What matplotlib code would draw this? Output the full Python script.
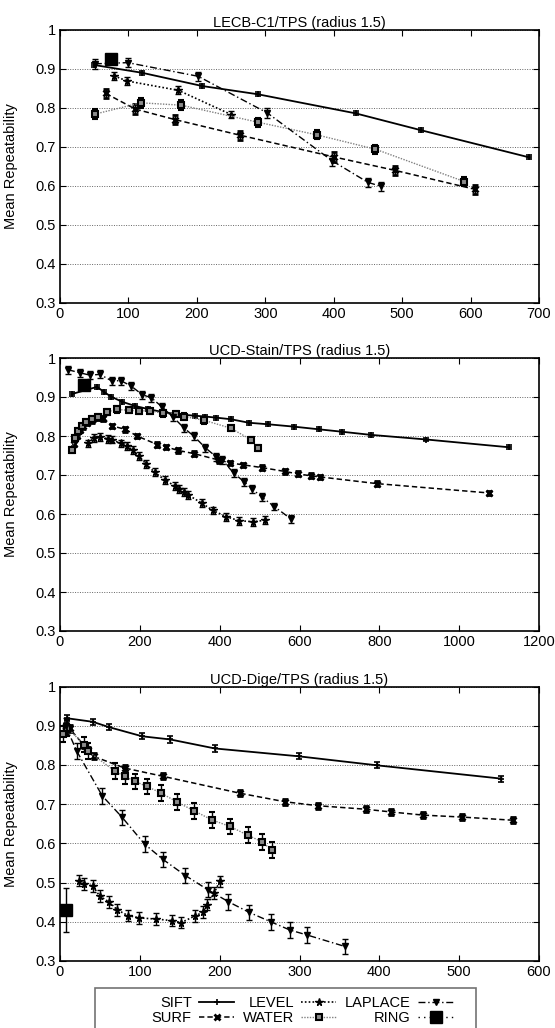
import numpy as np
import matplotlib.pyplot as plt
from matplotlib.lines import Line2D
from matplotlib.patches import Rectangle

plt.rcParams['font.family'] = ['Liberation Sans', 'DejaVu Sans']
plt.rcParams['font.size'] = 10.5

names = ['SIFT', 'SURF', 'LEVEL', 'WATER', 'LAPLACE', 'RING']
ytick_vals = [0.3, 0.4, 0.5, 0.6, 0.7, 0.8, 0.9, 1.0]
ytick_labels = ['0.3', '0.4', '0.5', '0.6', '0.7', '0.8', '0.9', '1']

# --- LECB-C1/TPS ---
lecb_sift_x = [50, 120, 208, 289, 432, 527, 686]
lecb_sift_y = [0.909, 0.889, 0.855, 0.834, 0.785, 0.742, 0.672]
lecb_surf_x = [67, 110, 168, 263, 401, 489, 607]
lecb_surf_y = [0.836, 0.796, 0.769, 0.729, 0.673, 0.639, 0.590]
lecb_level_x = [79, 98, 173, 250]
lecb_level_y = [0.881, 0.868, 0.844, 0.782]
lecb_water_x = [51, 118, 177, 290, 375, 461, 591]
lecb_water_y = [0.783, 0.812, 0.806, 0.762, 0.730, 0.693, 0.610]
lecb_laplace_x = [51, 99, 202, 303, 398, 450, 469]
lecb_laplace_y = [0.912, 0.915, 0.880, 0.786, 0.663, 0.608, 0.598]
lecb_ring_x = [74]
lecb_ring_y = [0.925]
lecb_err = [0.005, 0.012, 0.010, 0.012, 0.012, 0.0]

# --- UCD-Stain/TPS ---
stain_sift_x = [31, 93, 110, 128, 155, 188, 221, 259, 292, 338, 363, 392, 428,
                473, 522, 586, 650, 706, 778, 918, 1126]
stain_sift_y = [0.908, 0.926, 0.913, 0.901, 0.888, 0.877, 0.869, 0.861, 0.856,
                0.852, 0.850, 0.847, 0.843, 0.834, 0.830, 0.824, 0.817, 0.811,
                0.803, 0.791, 0.771]
stain_surf_x = [36, 42, 50, 58, 68, 80, 95, 107, 130, 164, 193, 244, 266, 296,
                335, 399, 426, 459, 506, 564, 595, 628, 652, 793, 1074]
stain_surf_y = [0.780, 0.800, 0.815, 0.825, 0.833, 0.840, 0.846, 0.845, 0.826,
                0.817, 0.800, 0.778, 0.772, 0.763, 0.755, 0.738, 0.731, 0.726,
                0.719, 0.709, 0.703, 0.698, 0.695, 0.678, 0.654]
stain_level_x = [71, 84, 100, 120, 130, 152, 167, 182, 198, 216, 237, 262, 287,
                 297, 311, 321, 355, 383, 417, 448, 484, 513]
stain_level_y = [0.781, 0.795, 0.797, 0.793, 0.791, 0.781, 0.775, 0.764, 0.748,
                 0.728, 0.707, 0.688, 0.672, 0.664, 0.656, 0.649, 0.628, 0.609,
                 0.593, 0.583, 0.580, 0.584]
stain_water_x = [29, 38, 46, 55, 65, 80, 95, 118, 143, 172, 197, 225, 258, 290,
                 311, 362, 428, 479, 497]
stain_water_y = [0.765, 0.795, 0.812, 0.825, 0.835, 0.843, 0.848, 0.862, 0.868,
                 0.866, 0.864, 0.865, 0.858, 0.856, 0.850, 0.840, 0.820, 0.790,
                 0.770]
stain_laplace_x = [20, 50, 75, 100, 130, 152, 177, 206, 229, 255, 284, 311, 335,
                   364, 392, 407, 435, 462, 482, 506, 537, 579]
stain_laplace_y = [0.970, 0.962, 0.956, 0.958, 0.941, 0.942, 0.929, 0.906, 0.898,
                   0.875, 0.848, 0.820, 0.800, 0.770, 0.746, 0.738, 0.705, 0.682,
                   0.664, 0.643, 0.619, 0.587]
stain_ring_x = [60]
stain_ring_y = [0.930]
stain_err = [0.005, 0.006, 0.010, 0.008, 0.010, 0.0]

# --- UCD-Dige/TPS ---
dige_sift_x = [9, 41, 62, 103, 138, 194, 299, 397, 553]
dige_sift_y = [0.919, 0.910, 0.896, 0.873, 0.865, 0.842, 0.822, 0.799, 0.765]
dige_surf_x = [7, 12, 30, 35, 42, 81, 129, 225, 282, 323, 383, 415, 455, 504, 567]
dige_surf_y = [0.900, 0.893, 0.850, 0.838, 0.822, 0.792, 0.771, 0.728, 0.706,
               0.696, 0.687, 0.680, 0.672, 0.667, 0.659]
dige_level_x = [24, 30, 41, 50, 62, 72, 85, 99, 120, 140, 152, 169, 179, 184,
                193, 200]
dige_level_y = [0.505, 0.497, 0.491, 0.465, 0.450, 0.430, 0.416, 0.410, 0.407,
                0.403, 0.398, 0.415, 0.424, 0.444, 0.473, 0.503]
dige_water_x = [4, 9, 30, 35, 69, 81, 94, 109, 126, 147, 168, 190, 213, 235,
                253, 265]
dige_water_y = [0.878, 0.895, 0.852, 0.835, 0.784, 0.771, 0.758, 0.745, 0.729,
                0.705, 0.683, 0.660, 0.643, 0.621, 0.604, 0.583]
dige_laplace_x = [7, 21, 53, 78, 106, 129, 157, 185, 211, 237, 264, 288, 310, 357]
dige_laplace_y = [0.900, 0.835, 0.721, 0.666, 0.598, 0.559, 0.518, 0.482, 0.451,
                  0.424, 0.400, 0.379, 0.366, 0.337]
dige_ring_x = [8]
dige_ring_y = [0.430]
dige_err = [0.008, 0.008, 0.015, 0.020, 0.020, 0.057]

styles = {
    'SIFT': dict(color='black', ls='-', lw=1.3, marker='+', ms=5, mew=1.2),
    'SURF': dict(color='black', ls=(0, (3.5, 2)), lw=1.1, marker='x', ms=4, mew=2.0),
    'LEVEL': dict(color='black', ls=(0, (1, 1.3)), lw=1.2, marker='*', ms=5.5, mew=1.0),
    'WATER': dict(color='0.5', ls=(0, (1, 1)), lw=1.0, marker='s', ms=4.5,
                  mfc='0.55', mec='black', mew=1.5),
    'LAPLACE': dict(color='black', ls=(0, (5, 2, 1, 2)), lw=1.0, marker='v', ms=5,
                    mfc='black', mec='black'),
    'RING': dict(color='black', ls=(0, (1, 3)), lw=1.0, marker='s', ms=9,
                 mfc='black', mec='black'),
}

panels = [
    ('LECB-C1/TPS (radius 1.5)', 700, 100,
     [(lecb_sift_x, lecb_sift_y), (lecb_surf_x, lecb_surf_y),
      (lecb_level_x, lecb_level_y), (lecb_water_x, lecb_water_y),
      (lecb_laplace_x, lecb_laplace_y), (lecb_ring_x, lecb_ring_y)], lecb_err),
    ('UCD-Stain/TPS (radius 1.5)', 1200, 200,
     [(stain_sift_x, stain_sift_y), (stain_surf_x, stain_surf_y),
      (stain_level_x, stain_level_y), (stain_water_x, stain_water_y),
      (stain_laplace_x, stain_laplace_y), (stain_ring_x, stain_ring_y)], stain_err),
    ('UCD-Dige/TPS (radius 1.5)', 600, 100,
     [(dige_sift_x, dige_sift_y), (dige_surf_x, dige_surf_y),
      (dige_level_x, dige_level_y), (dige_water_x, dige_water_y),
      (dige_laplace_x, dige_laplace_y), (dige_ring_x, dige_ring_y)], dige_err),
]

W, H = 555, 1028
fig = plt.figure(figsize=(W / 100, H / 100), dpi=100)

# axes boxes in pixels: (top, bottom)
boxes = [(29.5, 302.5), (358, 631), (686.5, 961)]
left_px, right_px = 60, 539

for (title, xmax, xstep, series, errs), (top, bot) in zip(panels, boxes):
    ax = fig.add_axes([left_px / W, 1 - bot / H, (right_px - left_px) / W, (bot - top) / H])
    for name, (x, y), e in zip(names, series, errs):
        ax.errorbar(x, y, yerr=e, capsize=2, elinewidth=1.0, ecolor='black',
                    capthick=1.0, **styles[name])
    ax.set_xlim(0, xmax)
    ax.set_ylim(0.3, 1.0)
    ax.set_xticks(np.arange(0, xmax + 1, xstep))
    ax.set_yticks(ytick_vals)
    ax.set_yticklabels(ytick_labels)
    ax.grid(axis='y', color='0.4', lw=0.7, ls=(0, (1, 1.5)))
    ax.grid(axis='x', visible=False)
    ax.tick_params(direction='in', top=True, right=True, length=4, width=0.8,
                   labelsize=10.5, pad=3)
    for sp in ax.spines.values():
        sp.set_linewidth(1.2)
    ax.set_title(title, fontsize=10.5, pad=2)
    ax.set_ylabel('Mean Repeatability', fontsize=10.5)
    ax.yaxis.set_label_coords((17.7 - left_px) / (right_px - left_px), 0.5)

# legend at bottom, box runs off the figure edge like the original
fig.patches.append(Rectangle((95 / W, -0.02), (476 - 95) / W, (H - 988) / H + 0.02,
                             transform=fig.transFigure, fill=False,
                             ec='0.45', lw=1.2))
handles = [Line2D([], [], **styles[n]) for n in names]
fig.legend(handles, names, loc='center', bbox_to_anchor=(302.5 / W, 1 - 1010.5 / H),
           ncol=3, markerfirst=False, frameon=False, fontsize=10.5,
           handlelength=2.4, handletextpad=0.5, columnspacing=0.6,
           labelspacing=0.05, numpoints=1, borderpad=0)

fig.savefig('out.png', dpi=100)
